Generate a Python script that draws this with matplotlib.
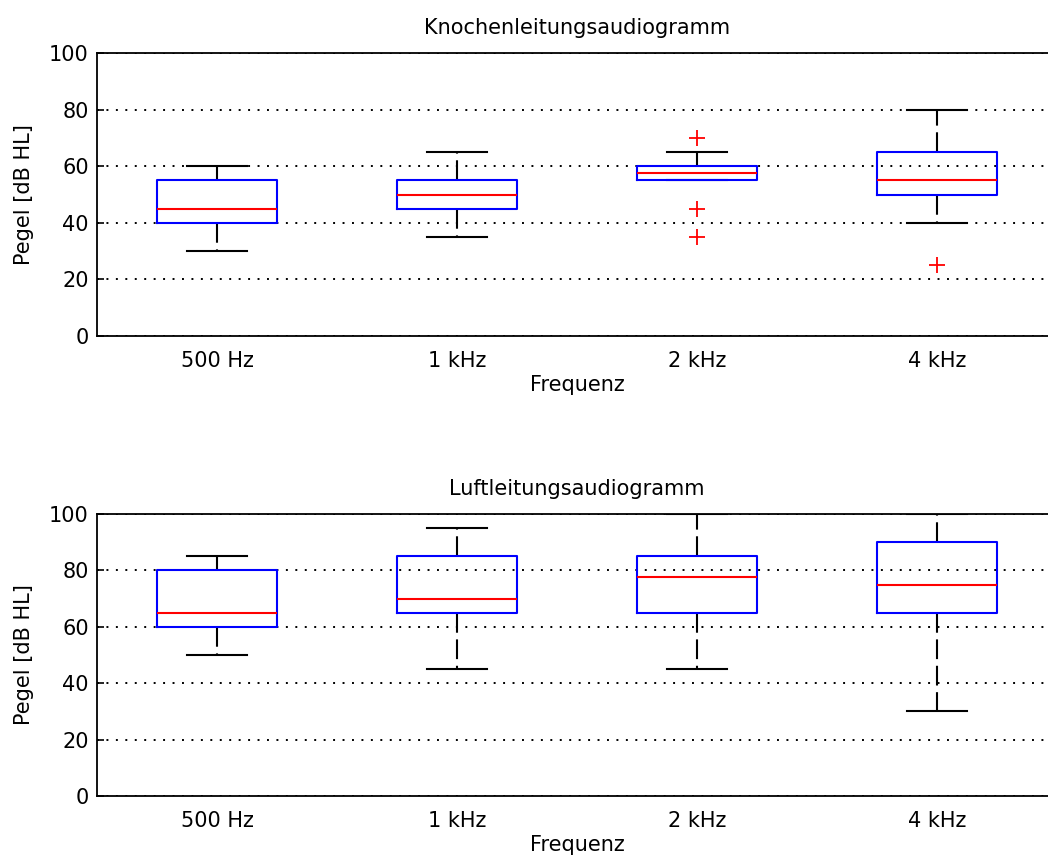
import matplotlib
matplotlib.use("Agg")
import matplotlib.pyplot as plt

plt.rcParams["font.family"] = ["DejaVu Sans"]
plt.rcParams["lines.scale_dashes"] = False

frequencies = ["500 Hz", "1 kHz", "2 kHz", "4 kHz"]

# Knochenleitung (bone conduction) box statistics in dB HL
bone_whislo = [30, 35, 55, 40]
bone_q1 = [40, 45, 55, 50]
bone_med = [45, 50, 57.5, 55]
bone_q3 = [55, 55, 60, 65]
bone_whishi = [60, 65, 65, 80]
bone_fliers = [[], [], [70, 45, 35], [25]]

# Luftleitung (air conduction) box statistics in dB HL
air_whislo = [50, 45, 45, 30]
air_q1 = [60, 65, 65, 65]
air_med = [65, 70, 77.5, 75]
air_q3 = [80, 85, 85, 90]
air_whishi = [85, 95, 100, 100]
air_fliers = [[], [], [], []]

y_ticks = [0, 20, 40, 60, 80, 100]
FS = 15


def make_stats(whislo, q1, med, q3, whishi, fliers):
    return [
        dict(whislo=a, q1=b, med=c, q3=d, whishi=e, fliers=f, label=lab)
        for a, b, c, d, e, f, lab in zip(whislo, q1, med, q3, whishi, fliers, frequencies)
    ]


def draw_panel(ax, stats, title):
    ax.yaxis.grid(True, color="black", linewidth=1.4, linestyle=(0, (1.4, 5.4)))
    ax.set_axisbelow(True)
    ax.bxp(
        stats,
        positions=range(1, len(stats) + 1),
        widths=0.5,
        showfliers=True,
        boxprops=dict(color="#0000ff", linewidth=1.5, zorder=4),
        medianprops=dict(color="#ff0000", linewidth=1.5, zorder=5),
        whiskerprops=dict(color="black", linewidth=1.5, linestyle=(0, (14.2, 4.8)), zorder=3),
        capprops=dict(color="black", linewidth=1.5, zorder=3),
        capwidths=0.25,
        flierprops=dict(marker="+", markeredgecolor="#ff0000", markersize=11,
                        markeredgewidth=1.3, linestyle="none", zorder=6),
        manage_ticks=False,
    )
    ax.set_xlim(0.5, len(stats) + 0.5)
    ax.set_ylim(0, 100)
    ax.set_yticks(y_ticks)
    ax.set_xticks(range(1, len(stats) + 1))
    ax.set_xticklabels(frequencies)
    ax.tick_params(axis="y", direction="in", length=5, width=1.2, pad=6, labelsize=FS)
    ax.tick_params(axis="x", length=0, pad=11, labelsize=FS)
    for sp in ax.spines.values():
        sp.set_linewidth(1.3)
    ax.set_title(title, fontsize=FS, pad=14)
    ax.set_xlabel("Frequenz", fontsize=FS, labelpad=3)
    ax.set_ylabel("Pegel [dB HL]", fontsize=FS, labelpad=11)


fig = plt.figure(figsize=(10.48, 8.56), dpi=100)
W, H = 1048.0, 856.0
left, width = 97 / W, 960 / W
ax_top = fig.add_axes([left, 1 - 336 / H, width, 283 / H])
ax_bot = fig.add_axes([left, 1 - 796 / H, width, 282 / H])

draw_panel(ax_top, make_stats(bone_whislo, bone_q1, bone_med, bone_q3, bone_whishi, bone_fliers),
           "Knochenleitungsaudiogramm")
draw_panel(ax_bot, make_stats(air_whislo, air_q1, air_med, air_q3, air_whishi, air_fliers),
           "Luftleitungsaudiogramm")

fig.savefig("out.png", dpi=100)
